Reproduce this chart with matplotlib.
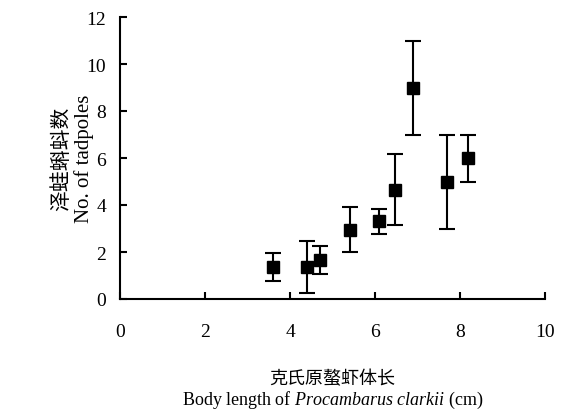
import matplotlib
matplotlib.use('Agg')
import matplotlib.pyplot as plt

# body length (cm), tadpole count, error
body_len = [3.6, 4.4, 4.7, 5.4, 6.1, 6.47, 6.9, 7.7, 8.2]
tadpoles = [1.35, 1.35, 1.65, 2.95, 3.3, 4.65, 9.0, 5.0, 6.0]
err = [0.6, 1.1, 0.6, 0.95, 0.55, 1.5, 2.0, 2.0, 1.0]

xticks = [0, 2, 4, 6, 8, 10]
yticks = [0, 2, 4, 6, 8, 10, 12]

plt.rcParams['font.family'] = ['Liberation Serif', 'Noto Sans CJK SC']
plt.rcParams['mathtext.fontset'] = 'custom'
plt.rcParams['mathtext.rm'] = 'Liberation Serif'
plt.rcParams['mathtext.it'] = 'Liberation Serif:italic'

fig = plt.figure(figsize=(5.66, 4.14), dpi=100)
ax = fig.add_axes([120/566, 1 - 300/414, 425/566, 282/414])

ax.errorbar(body_len, tadpoles, yerr=err, fmt='s', color='black', ms=9,
            ecolor='black', elinewidth=1.5, capsize=6, capthick=1.5)

ax.set_xlim(0, 10)
ax.set_ylim(0, 12)
ax.set_xticks(xticks)
ax.set_yticks(yticks)
ax.spines['top'].set_visible(False)
ax.spines['right'].set_visible(False)
for s in ['left', 'bottom']:
    ax.spines[s].set_linewidth(1.5)
ax.tick_params(direction='in', length=5, width=1.5, labelsize=14)
ax.tick_params(axis='x', pad=17)
ax.tick_params(axis='y', pad=10)

ax.set_ylabel('泽蛙蝌蚪数\nNo. of tadpoles', fontsize=15, linespacing=1.1)
ax.yaxis.set_label_coords(-0.062, 0.5)
ax.set_xlabel('克氏原螯虾体长\nBody length of $\\mathit{Procambarus\\ clarkii}$ (cm)',
              fontsize=13, linespacing=1.15)
ax.xaxis.set_label_coords(0.5, -0.25)

fig.savefig('out.png', dpi=100)
